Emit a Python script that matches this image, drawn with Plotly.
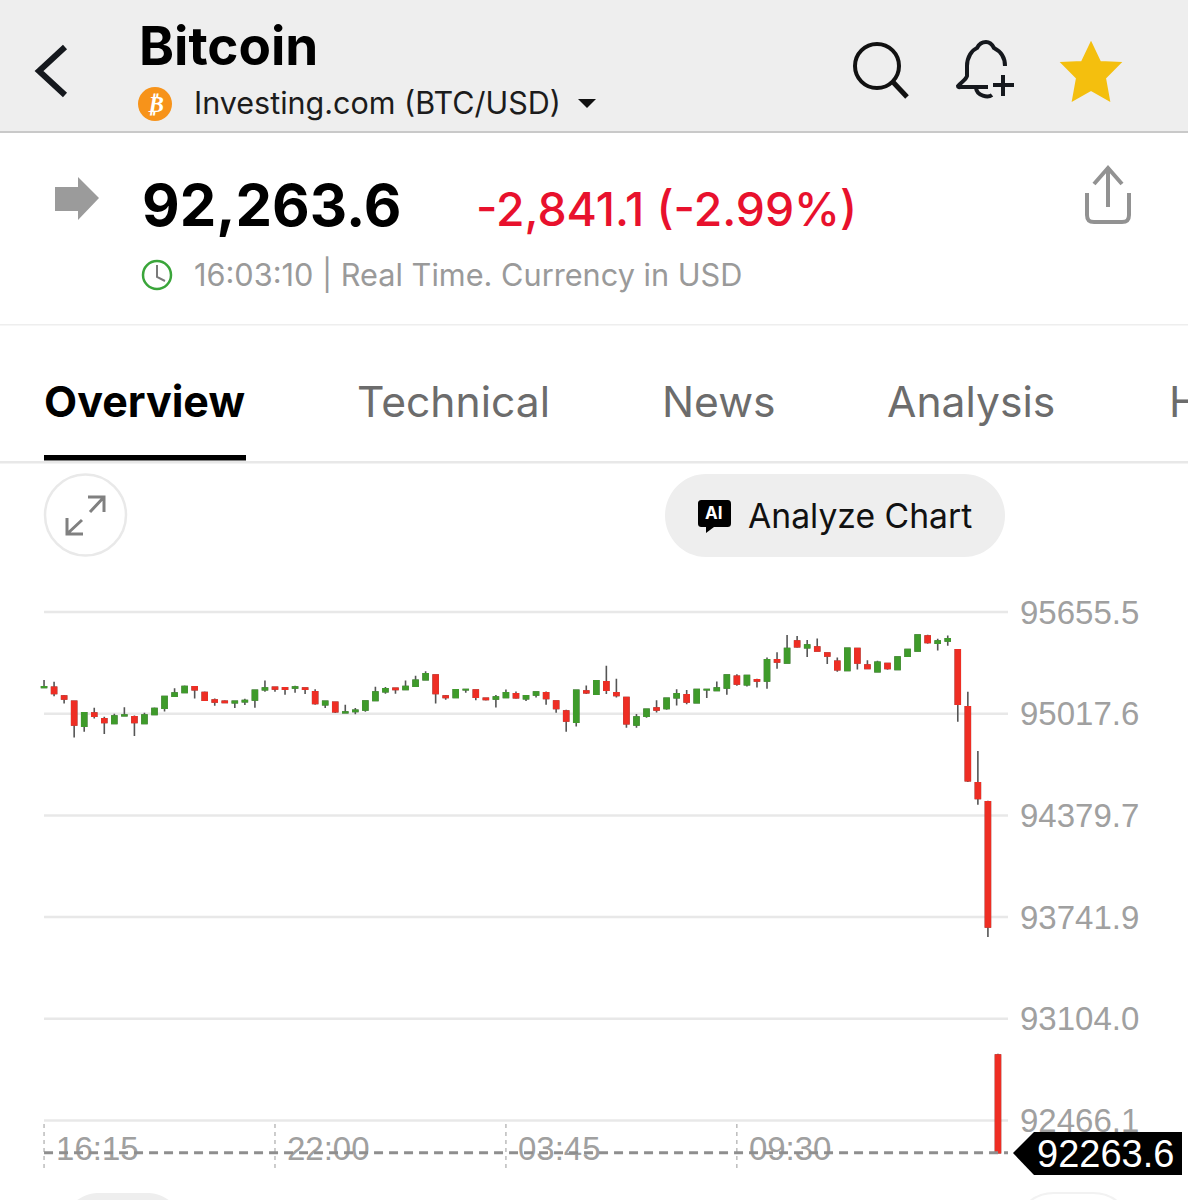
import pandas as pd
import plotly.graph_objects as go

W = 1188
H = 1200

# 15 minute candles, one day
times = list(pd.date_range("2024-01-01 16:15", periods=96, freq="15min").strftime("%H:%M"))

opens = [95183, 95183, 95128, 95095, 94940, 95022, 94986, 94957, 95005, 94999,
         94957, 95014, 95053, 95128, 95151, 95187, 95151, 95103, 95095, 95087,
         95093, 95105, 95168, 95183, 95181, 95179, 95179, 95156, 95074, 95089,
         95024, 95032, 95041, 95101, 95156, 95177, 95170, 95191, 95231, 95260,
         95128, 95120, 95168, 95166, 95114, 95110, 95120, 95143, 95112, 95135,
         95149, 95097, 95034, 94965, 95160, 95141, 95218, 95149, 95120, 94947,
         95003, 95053, 95051, 95118, 95137, 95087, 95168, 95164, 95179, 95252,
         95200, 95231, 95223, 95356, 95337, 95473, 95432, 95436, 95398, 95346,
         95289, 95427, 95323, 95281, 95333, 95296, 95379, 95411, 95505, 95461,
         95475, 95419, 95062, 94585, 94466, 92877]
closes = [95187, 95145, 95110, 94947, 95024, 95003, 94963, 95003, 95009, 94963,
          95009, 95051, 95126, 95147, 95189, 95168, 95103, 95091, 95089, 95095,
          95101, 95164, 95179, 95174, 95172, 95185, 95172, 95082, 95095, 95030,
          95028, 95039, 95097, 95154, 95174, 95170, 95189, 95227, 95268, 95145,
          95120, 95168, 95170, 95122, 95108, 95122, 95149, 95118, 95131, 95154,
          95114, 95051, 94972, 95164, 95149, 95225, 95166, 95133, 94955, 94997,
          95045, 95041, 95114, 95143, 95091, 95170, 95170, 95179, 95260, 95204,
          95258, 95223, 95356, 95342, 95427, 95438, 95448, 95411, 95381, 95294,
          95429, 95337, 95302, 95340, 95302, 95373, 95421, 95511, 95465, 95473,
          95488, 95078, 94598, 94487, 93680, 92263.6]
highs = [95229, 95218, 95135, 95099, 95024, 95055, 94999, 95018, 95059, 95007,
         95024, 95057, 95128, 95177, 95195, 95191, 95158, 95114, 95103, 95095,
         95112, 95166, 95227, 95187, 95185, 95193, 95183, 95172, 95095, 95095,
         95074, 95053, 95101, 95187, 95185, 95177, 95227, 95256, 95285, 95266,
         95135, 95170, 95172, 95172, 95120, 95135, 95170, 95158, 95133, 95158,
         95158, 95103, 95043, 95170, 95195, 95227, 95319, 95237, 95124, 95016,
         95047, 95103, 95114, 95172, 95166, 95172, 95170, 95220, 95262, 95266,
         95258, 95237, 95371, 95404, 95511, 95505, 95480, 95490, 95402, 95371,
         95429, 95429, 95354, 95350, 95337, 95377, 95421, 95515, 95513, 95488,
         95509, 95421, 95156, 94784, 94472, 92884]
lows = [95181, 95128, 95082, 94869, 94905, 94988, 94890, 94957, 95005, 94878,
        94957, 95014, 95032, 95128, 95151, 95114, 95097, 95068, 95087, 95053,
        95072, 95055, 95156, 95156, 95137, 95149, 95141, 95074, 95053, 95022,
        95024, 95014, 95030, 95097, 95143, 95143, 95168, 95187, 95231, 95082,
        95105, 95116, 95149, 95103, 95101, 95057, 95116, 95112, 95097, 95120,
        95074, 95024, 94905, 94938, 95141, 95141, 95141, 95120, 94930, 94930,
        94993, 95026, 95043, 95070, 95078, 95082, 95116, 95162, 95137, 95193,
        95189, 95183, 95174, 95300, 95335, 95432, 95373, 95409, 95329, 95281,
        95289, 95296, 95298, 95281, 95294, 95296, 95373, 95406, 95457, 95415,
        95444, 94968, 94589, 94447, 93617, 92263.6]

price_ticks = [95655.5, 95017.6, 94379.7, 93741.9, 93104.0, 92466.1]
time_ticks = ["16:15", "22:00", "03:45", "09:30"]
last_price = 92263.6

GREEN = "#3f9b2b"
RED = "#ee2e24"
WICK = "#555555"
GRID = "#e8e8e8"
LABEL = "#a0a0a0"
SF = "Inter"
HV = "Liberation Sans"


# screen pixels to paper coordinates, used for the app chrome round the chart
def px(x):
    return x / W


def py(y):
    return 1 - y / H


def path(d):
    res = []
    is_x = True
    for tok in d.split():
        if tok.isalpha():
            res.append(tok)
            is_x = True
        else:
            res.append(str(px(float(tok))) if is_x else str(py(float(tok))))
            is_x = not is_x
    return " ".join(res)


shapes = []
annotations = []


def chrome_path(d, color="rgba(0,0,0,0)", line=None, width=0):
    shapes.append(dict(type="path", xref="paper", yref="paper", path=path(d), fillcolor=color,
                       line=dict(color=line or "rgba(0,0,0,0)", width=width)))


def rect(x0, y0, x1, y1, color):
    shapes.append(dict(type="rect", xref="paper", yref="paper", x0=px(x0), x1=px(x1), y0=py(y0), y1=py(y1),
                       fillcolor=color, line=dict(width=0), layer="below"))


def circle(cx, cy, r, color="rgba(0,0,0,0)", line=None, width=0):
    shapes.append(dict(type="circle", xref="paper", yref="paper", x0=px(cx - r), x1=px(cx + r),
                       y0=py(cy + r), y1=py(cy - r), fillcolor=color,
                       line=dict(color=line or "rgba(0,0,0,0)", width=width)))


def text(s, x, y, size, color="#000000", font=SF, bold=False, weight=None):
    label = "<b>" + s + "</b>" if bold else s
    f = dict(family=font, size=size, color=color)
    if weight:
        f["weight"] = weight
    annotations.append(dict(text=label, xref="paper", yref="paper", x=px(x), y=py(y), xanchor="left",
                            yanchor="middle", showarrow=False, borderpad=0, font=f))


# header
rect(0, 0, W, 132, "#eeeeee")
rect(0, 131, W, 133, "#c9c9c9")
chrome_path("M 65 47 L 39 71 L 65 95", line="#15181d", width=6)
text("Bitcoin", 138, 46, 53, bold=True)
circle(155, 104, 17, color="#f7931a")
text("<i>₿</i>", 146, 104, 23, color="#ffffff", font="DejaVu Sans", bold=True)
text("Investing.com (BTC/USD)", 193, 103, 30.5, color="#1c1c1c")
chrome_path("M 578 99 L 596 99 L 587 108 Z", color="#111111")
circle(877, 66, 22, line="#111111", width=4)
chrome_path("M 893 82 L 907 97", line="#111111", width=5)
chrome_path("M 1005 66 C 1005 55 998 50 994 48 C 992 44 989 42 986 42 C 982 42 979 44 977 48 "
            "C 972 50 967 57 967 66 L 967 76 C 966 80 960 83 958 86 C 958 88 960 87 962 87 L 988 87",
            line="#15181d", width=4)
chrome_path("M 976 88 C 977 96 988 98 992 95", line="#15181d", width=4)
chrome_path("M 993 85 L 1014 85 M 1003 75 L 1003 96", line="#15181d", width=4)
chrome_path("M 1091 43 L 1100 62 L 1120 63 L 1105 78 L 1109 100 L 1091 90 L 1073 100 L 1077 78 "
            "L 1062 63 L 1082 62 Z", color="#f4bf0e", line="#f4bf0e", width=2)

# quote row
chrome_path("M 55 187 L 78 187 L 78 177 L 99 198 L 78 220 L 78 211 L 55 211 Z", color="#9b9b9b")
text("92,263.6", 141, 205, 58, bold=True)
text("-2,841.1 (-2.99%)", 475, 209, 46.3, color="#e8112d", weight=500)
circle(157, 275, 14, line="#3aa53a", width=2.5)
chrome_path("M 157 265 L 157 277 L 165 281", line="#7a7a7a", width=2)
text("16:03:10 | Real Time. Currency in USD", 193, 275, 30.7, color="#9a9a9a")
chrome_path("M 1108 207 L 1108 167 M 1094 184 L 1108 168 L 1122 184", line="#929292", width=4)
chrome_path("M 1087 193 L 1087 215 C 1087 220 1089 222 1094 222 L 1122 222 C 1127 222 1129 220 1129 215 L 1129 193",
            line="#929292", width=4)
rect(0, 324, W, 325.5, "#eeeeee")

# tabs
text("Overview", 43, 401, 43, bold=True)
text("Technical", 356, 401, 42.6, color="#6c6c6c")
text("News", 661, 401, 42.6, color="#6c6c6c")
text("Analysis", 886, 401, 42.6, color="#6c6c6c")
text("H", 1168, 401, 42.6, color="#6c6c6c")
rect(0, 461, W, 463.5, "#e8e8e8")
rect(44, 455, 246, 460.5, "#000000")

# chart buttons
circle(85.5, 515, 40.5, line="#e9e9e9", width=2.5)
chrome_path("M 88 497 L 104 497 L 104 512 M 104 497 L 90 512 M 83 534 L 67 534 L 67 518 M 67 534 L 82 520",
            line="#808080", width=3)
chrome_path("M 706 474 L 964 474 C 987 474 1005 493 1005 515.5 C 1005 538 987 557 964 557 L 706 557 "
            "C 683 557 665 538 665 515.5 C 665 493 683 474 706 474 Z", color="#eeeeee")
chrome_path("M 702 500 L 727 500 C 730 500 731 501 731 504 L 731 523 C 731 526 730 527 727 527 L 714 527 "
            "L 706 533 L 706 527 L 702 527 C 699 527 698 526 698 523 L 698 504 C 698 501 699 500 702 500 Z",
            color="#000000")
text("AI", 704, 513, 17, color="#ffffff", bold=True)
text("Analyze Chart", 747, 516, 33.7, color="#111111")

# bottom buttons, cut off by the page edge
chrome_path("M 72 1205 C 80 1196 90 1193 100 1193 L 146 1193 C 156 1193 166 1196 174 1205 Z", color="#eeeeee")
chrome_path("M 1026 1205 C 1034 1196 1044 1193 1054 1193 L 1093 1193 C 1103 1193 1113 1196 1121 1205",
            line="#f2f2f2", width=2)

# chart guides
for p in price_ticks:
    shapes.append(dict(type="line", xref="x", yref="y", x0=0, x1=96, y0=p, y1=p, layer="below",
                       line=dict(color=GRID, width=2.5)))
for t in time_ticks:
    shapes.append(dict(type="line", xref="x", yref="paper", x0=t, x1=t, y0=py(1168), y1=py(1121), layer="below",
                       line=dict(color="#9a9a9a", width=1, dash="4px,4px")))
shapes.append(dict(type="line", xref="x", yref="y", x0=0, x1=96, y0=last_price, y1=last_price,
                   line=dict(color="#8e8e8e", width=3, dash="9px,6px")))

# last price tag
chrome_path("M 1034 1132 L 1182 1132 L 1182 1175 L 1034 1175 L 1013 1153 Z", color="#000000")
text("92263.6", 1036, 1154, 38, color="#ffffff", font=HV)

fig = go.Figure()
# wicks
fig.add_trace(go.Candlestick(
    x=times, open=opens, high=highs, low=lows, close=closes,
    increasing=dict(line=dict(color=WICK, width=1.6), fillcolor=WICK),
    decreasing=dict(line=dict(color=WICK, width=1.6), fillcolor=WICK),
    whiskerwidth=0, hoverinfo="skip", showlegend=False,
))
# bodies on top so the wick colour does not show round them
fig.add_trace(go.Candlestick(
    x=times, open=opens, close=closes,
    high=[max(o, c) for o, c in zip(opens, closes)],
    low=[min(o, c) for o, c in zip(opens, closes)],
    increasing=dict(line=dict(color=GREEN, width=1.6), fillcolor=GREEN),
    decreasing=dict(line=dict(color=RED, width=1.6), fillcolor=RED),
    whiskerwidth=0, hoverinfo="skip", showlegend=False,
))

fig.update_layout(
    width=W,
    height=H,
    margin=dict(l=0, r=0, t=0, b=0),
    paper_bgcolor="#ffffff",
    plot_bgcolor="rgba(0,0,0,0)",
    showlegend=False,
    shapes=shapes,
    annotations=annotations,
    xaxis=dict(
        type="category",
        categoryorder="array",
        categoryarray=times,
        domain=[px(34), px(1008)],
        range=[-1, 96],
        rangeslider=dict(visible=False),
        showgrid=False,
        zeroline=False,
        showline=False,
        ticks="",
        tickmode="array",
        tickvals=time_ticks,
        ticklabelposition="inside right",
        ticklabelshift=12,
        ticklabelstandoff=-5,
        tickfont=dict(family=HV, size=33, color=LABEL),
        anchor="y",
    ),
    yaxis=dict(
        domain=[py(1168), py(590)],
        range=[92168, 95794],
        side="right",
        showgrid=False,
        zeroline=False,
        showline=False,
        ticks="",
        tickmode="array",
        tickvals=price_ticks,
        ticktext=[f"{p:.1f}" for p in price_ticks],
        ticklabelstandoff=11,
        tickfont=dict(family=HV, size=33, color=LABEL),
        anchor="x",
    ),
)

fig.write_html("out.html", config={"displayModeBar": False},
               post_script="document.body.style.margin='0';")
